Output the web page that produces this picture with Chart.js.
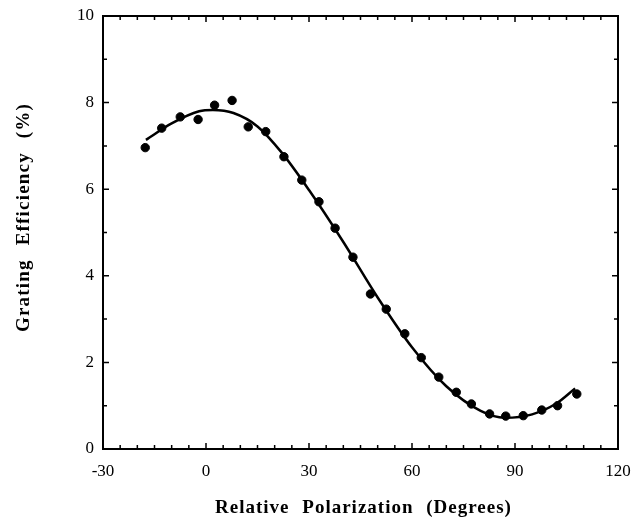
<!DOCTYPE html>
<html>
<head>
<meta charset="utf-8">
<script src="https://cdn.jsdelivr.net/npm/chart.js@4"></script>
<style>
    html, body { margin: 0; padding: 0; background: #fff; }
    #wrap { width: 633px; height: 528px; }
</style>
</head>
<body>
<div id="wrap"><canvas id="effChart" width="633" height="528"></canvas></div>
<script>
// measured points
const angles = [-17.7, -12.9, -7.5, -2.3, 2.5, 7.6, 12.3, 17.4, 22.7, 27.9, 32.9, 37.6, 42.8,
    47.9, 52.5, 57.9, 62.7, 67.8, 72.9, 77.3, 82.6, 87.3, 92.4, 97.8, 102.4, 108];
const efficiency = [6.96, 7.41, 7.67, 7.61, 7.94, 8.05, 7.44, 7.33, 6.75, 6.21, 5.71, 5.10, 4.43,
    3.58, 3.23, 2.66, 2.11, 1.66, 1.31, 1.04, 0.81, 0.76, 0.77, 0.90, 1.00, 1.27];

// fitted curve
const fitAngles = [-17.5, -10, -2, 2, 8, 15, 22, 30, 40, 50, 60, 70, 80, 87, 95, 102, 107.5];
const fitEfficiency = [7.14, 7.52, 7.80, 7.83, 7.76, 7.45, 6.85, 5.98, 4.78, 3.50, 2.35, 1.45, 0.88, 0.72, 0.80, 1.05, 1.40];

const xTitle = 'Relative Polarization (Degrees)';
const yTitle = 'Grating Efficiency (%)';

const xMin = -30, xMax = 120, xStep = 5, xMajor = 30;
const yMin = 0, yMax = 10, yStep = 1, yMajor = 2;

const serif = '"Liberation Serif", "DejaVu Serif", serif';

// inward ticks on all four sides plus the frame
const frameTicks = {
    id: 'frameTicks',
    afterDraw(chart) {
        const ctx = chart.ctx;
        const a = chart.chartArea;
        const xs = chart.scales.x, ys = chart.scales.y;
        ctx.save();
        ctx.strokeStyle = '#000';
        ctx.lineWidth = 2;
        ctx.strokeRect(a.left, a.top, a.right - a.left, a.bottom - a.top);
        ctx.lineWidth = 1.5;
        ctx.beginPath();
        for (let v = xMin + xStep; v < xMax; v += xStep) {
            const px = xs.getPixelForValue(v);
            const len = v % xMajor === 0 ? 6 : 4;
            ctx.moveTo(px, a.bottom); ctx.lineTo(px, a.bottom - len);
            ctx.moveTo(px, a.top); ctx.lineTo(px, a.top + len);
        }
        for (let v = yMin + yStep; v < yMax; v += yStep) {
            const py = ys.getPixelForValue(v);
            const len = v % yMajor === 0 ? 6 : 4;
            ctx.moveTo(a.left, py); ctx.lineTo(a.left + len, py);
            ctx.moveTo(a.right, py); ctx.lineTo(a.right - len, py);
        }
        ctx.stroke();
        ctx.restore();
    }
};

// axis titles, drawn by hand for the wide letter spacing
const axisTitles = {
    id: 'axisTitles',
    afterDraw(chart) {
        const ctx = chart.ctx;
        const a = chart.chartArea;
        ctx.save();
        ctx.fillStyle = '#000';
        ctx.font = 'bold 19px ' + serif;
        ctx.letterSpacing = '1px';
        ctx.wordSpacing = '7px';
        ctx.textAlign = 'center';
        ctx.textBaseline = 'middle';
        ctx.fillText(xTitle, (a.left + a.right) / 2 + 3, chart.height - 20);
        ctx.letterSpacing = '1.2px';
        ctx.wordSpacing = '8px';
        ctx.translate(24, (a.top + a.bottom) / 2 - 15);
        ctx.rotate(-Math.PI / 2);
        ctx.fillText(yTitle, 0, 0);
        ctx.restore();
    }
};

const ctx = document.getElementById('effChart').getContext('2d');
new Chart(ctx, {
    type: 'scatter',
    data: {
        datasets: [{
            label: 'Fit',
            type: 'line',
            data: fitAngles.map((x, i) => ({ x: x, y: fitEfficiency[i] })),
            borderColor: '#000',
            borderWidth: 2.5,
            pointRadius: 0,
            cubicInterpolationMode: 'monotone',
            fill: false
        }, {
            label: 'Measured',
            data: angles.map((x, i) => ({ x: x, y: efficiency[i] })),
            backgroundColor: '#000',
            borderColor: '#000',
            pointRadius: 4.2,
            pointHoverRadius: 4.2
        }]
    },
    options: {
        responsive: false,
        animation: false,
        layout: { padding: { top: 16, right: 15, left: 0, bottom: 0 } },
        plugins: {
            legend: { display: false },
            tooltip: { enabled: false }
        },
        scales: {
            x: {
                type: 'linear',
                min: xMin,
                max: xMax,
                afterFit(scale) {
                    scale.height = 79;
                    scale.paddingLeft = 0;
                    scale.paddingRight = 0;
                },
                grid: { display: false, drawTicks: false },
                border: { display: false },
                ticks: {
                    stepSize: xStep,
                    autoSkip: false,
                    maxRotation: 0,
                    padding: 12,
                    color: '#000',
                    font: { family: serif, size: 17 },
                    callback: v => (v % xMajor === 0 ? String(v) : '')
                }
            },
            y: {
                min: yMin,
                max: yMax,
                afterFit(scale) {
                    scale.width = 103;
                    scale.paddingTop = 0;
                    scale.paddingBottom = 0;
                },
                grid: { display: false, drawTicks: false },
                border: { display: false },
                ticks: {
                    stepSize: yStep,
                    autoSkip: false,
                    padding: 9,
                    color: '#000',
                    font: { family: serif, size: 17 },
                    callback: v => (v % yMajor === 0 ? String(v) : '')
                }
            }
        }
    },
    plugins: [frameTicks, axisTitles]
});
</script>
</body>
</html>
